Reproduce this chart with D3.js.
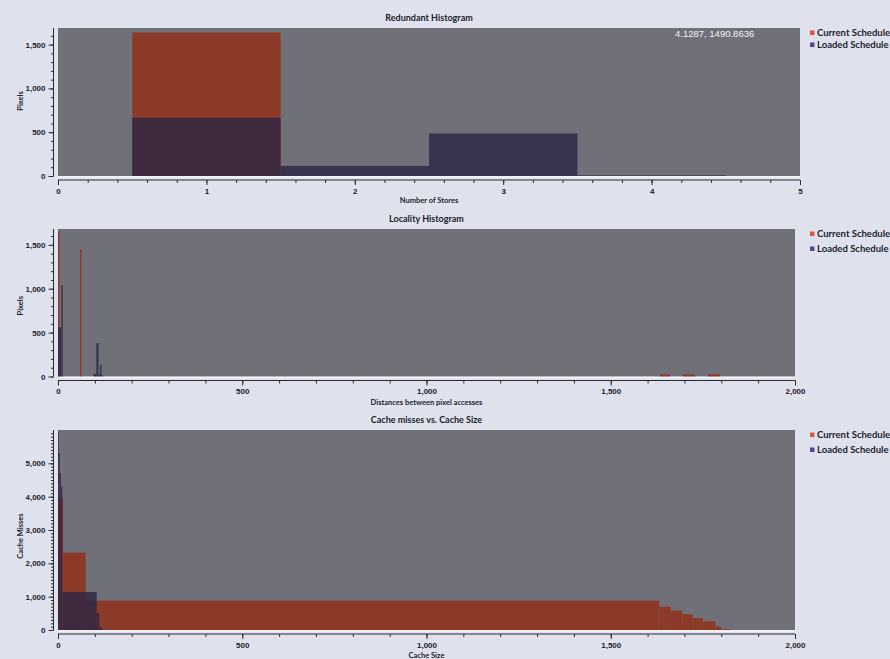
<!DOCTYPE html>
<html>
<head>
<meta charset="utf-8">
<script src="https://cdn.jsdelivr.net/npm/d3@7"></script>
<style>
  body { margin: 0; background: #dfe2ec; }
  svg { display: block; font-family: Lato, "Open Sans", sans-serif; }
</style>
</head>
<body>
<svg id="chart" width="890" height="659"></svg>
<script>
// ---- Redundant histogram: pixels per number of stores ----
const storeCounts = [1, 2, 3, 4];
const redundantCurrent = [1640, 0, 0, 0];
const redundantLoaded = [665, 115, 485, 8];

// ---- Locality histogram: distance between pixel accesses (bin edges + counts) ----
const localityCurrentFrom  = [0, 60, 1634, 1695, 1764];
const localityCurrentTo    = [4, 64, 1661, 1729, 1796];
const localityCurrentCount = [1650, 1445, 25, 25, 25];
const localityLoadedFrom   = [0, 9, 96, 104, 110, 114, 118];
const localityLoadedTo     = [9, 13, 104, 110, 114, 118, 122];
const localityLoadedCount  = [560, 1040, 30, 380, 30, 130, 20];

// ---- Cache misses vs. cache size (step segments) ----
const cacheCurrentFrom   = [0, 14, 75, 1632, 1663, 1694, 1722, 1750, 1784, 1800];
const cacheCurrentTo     = [14, 75, 1632, 1663, 1694, 1722, 1750, 1784, 1800, 1825];
const cacheCurrentMisses = [3950, 2320, 880, 700, 580, 470, 360, 260, 100, 25];
const cacheLoadedFrom    = [0, 2, 5, 8, 12, 105, 112];
const cacheLoadedTo      = [2, 5, 8, 12, 105, 112, 120];
const cacheLoadedMisses  = [5950, 5300, 4700, 4300, 1140, 500, 80];

const seriesNames = ["Current Schedule", "Loaded Schedule"];
const readout = "4.1287, 1490.8636";

const COLORS = {
  plotBg: "#707079",
  current: "#8d3b29",
  loaded: "#2d2644",
  legendCurrent: "#d85a38",
  legendLoaded: "#56468a",
  text: "#1c1c2c",
  axis: "#2a2a34"
};
const LOADED_OPACITY = 0.82;

const svg = d3.select("#chart");
const fmt = d3.format(",");

function segments(from, to, values) {
  return from.map((f, i) => ({ x0: f, x1: to[i], v: values[i] })).filter(d => d.v > 0);
}

function drawPanel(cfg) {
  const x = d3.scaleLinear().domain(cfg.xDomain).range(cfg.xRange);
  const y = d3.scaleLinear().domain([0, cfg.yMax]).range(cfg.yRange);
  const g = svg.append("g");

  // plot area
  g.append("rect")
    .attr("x", x(cfg.xDomain[0])).attr("y", y(cfg.yMax))
    .attr("width", x(cfg.xDomain[1]) - x(cfg.xDomain[0]))
    .attr("height", y(0) - y(cfg.yMax))
    .attr("fill", COLORS.plotBg);

  // series
  cfg.series.forEach(s => {
    g.append("g").selectAll("rect").data(s.data).join("rect")
      .attr("x", d => x(d.x0))
      .attr("y", d => y(d.v))
      .attr("width", d => Math.max(0.8, x(d.x1) - x(d.x0)))
      .attr("height", d => y(0) - y(d.v))
      .attr("fill", s.color)
      .attr("fill-opacity", s.opacity);
  });

  // light baseline under the plot
  g.append("line")
    .attr("x1", x(cfg.xDomain[0])).attr("x2", x(cfg.xDomain[1]))
    .attr("y1", y(0) + 1).attr("y2", y(0) + 1)
    .attr("stroke", "#f3f4f8").attr("stroke-width", 1.5);

  // x axis (minor + major ticks)
  const xAxisY = y(0) + 4;
  g.append("g").attr("transform", `translate(0,${xAxisY})`)
    .call(d3.axisBottom(x).tickValues(cfg.xMinor).tickSize(3).tickFormat(""))
    .call(a => a.select(".domain").remove())
    .selectAll("line").attr("stroke", COLORS.axis);
  const xa = g.append("g").attr("transform", `translate(0,${xAxisY})`)
    .call(d3.axisBottom(x).tickValues(cfg.xMajor).tickSize(5).tickSizeOuter(0).tickPadding(3).tickFormat(fmt));
  xa.select(".domain").attr("stroke", COLORS.axis).attr("d", `M${x(cfg.xDomain[0])},0H${x(cfg.xDomain[1])}`);
  xa.selectAll("line").attr("stroke", COLORS.axis);
  xa.selectAll("text").attr("fill", COLORS.text).attr("font-size", 8).attr("font-weight", 700);

  // y axis
  const yAxisX = x(cfg.xDomain[0]) - 4.5;
  g.append("g").attr("transform", `translate(${yAxisX},0)`)
    .call(d3.axisLeft(y).tickValues(cfg.yMinor).tickSize(2.5).tickFormat(""))
    .call(a => a.select(".domain").remove())
    .selectAll("line").attr("stroke", COLORS.axis);
  const ya = g.append("g").attr("transform", `translate(${yAxisX},0)`)
    .call(d3.axisLeft(y).tickValues(cfg.yMajor).tickSize(5).tickSizeOuter(0).tickPadding(3).tickFormat(fmt));
  ya.select(".domain").attr("stroke", COLORS.axis).attr("d", `M0,${y(0)}V${y(cfg.yMax)}`);
  ya.selectAll("line").attr("stroke", COLORS.axis);
  ya.selectAll("text").attr("fill", COLORS.text).attr("font-size", 8).attr("font-weight", 700);

  // titles
  const cx = (x(cfg.xDomain[0]) + x(cfg.xDomain[1])) / 2;
  g.append("text").attr("x", cx).attr("y", cfg.titleY).attr("text-anchor", "middle")
    .attr("font-size", 9).attr("font-weight", 700).attr("fill", COLORS.text).text(cfg.title);
  g.append("text").attr("x", cx).attr("y", cfg.xLabelY).attr("text-anchor", "middle")
    .attr("font-size", 7.5).attr("font-weight", 700).attr("fill", COLORS.text).text(cfg.xLabel);
  const cy = (y(0) + y(cfg.yMax)) / 2 + cfg.yLabelShift;
  g.append("text").attr("transform", `translate(23,${cy}) rotate(-90)`).attr("text-anchor", "middle")
    .attr("font-size", 7.5).attr("font-weight", 700).attr("fill", COLORS.text).text(cfg.yLabel);

  // legend
  const lg = g.append("g").attr("transform", `translate(810,${y(cfg.yMax) + 5})`);
  seriesNames.forEach((name, i) => {
    const ly = i * cfg.legendGap;
    lg.append("rect").attr("x", 0).attr("y", ly - 2.5).attr("width", 4.5).attr("height", 4.5)
      .attr("fill", i === 0 ? COLORS.legendCurrent : COLORS.legendLoaded);
    lg.append("text").attr("x", 7).attr("y", ly + 3.2).attr("font-size", 9.5).attr("font-weight", 700)
      .attr("fill", COLORS.text).text(name);
  });

  return { x, y, g };
}

// Panel 1
const p1 = drawPanel({
  title: "Redundant Histogram", xLabel: "Number of Stores", yLabel: "Pixels",
  xDomain: [0, 5], xRange: [58, 800], yMax: 1690, yRange: [176, 28],
  xMajor: d3.range(0, 6, 1), xMinor: d3.range(0, 5.01, 0.2),
  yMajor: [0, 500, 1000, 1500], yMinor: d3.range(0, 1690, 100),
  titleY: 21, xLabelY: 203, yLabelShift: -1, legendGap: 12,
  series: [
    { data: segments(storeCounts.map(s => s - 0.5), storeCounts.map(s => s + 0.5), redundantCurrent), color: COLORS.current, opacity: 1 },
    { data: segments(storeCounts.map(s => s - 0.5), storeCounts.map(s => s + 0.5), redundantLoaded), color: COLORS.loaded, opacity: LOADED_OPACITY }
  ]
});
p1.g.append("text").attr("x", 675).attr("y", 36.5).attr("font-size", 9.5)
  .attr("font-family", "'Liberation Sans', Arial, sans-serif")
  .attr("fill", "#f4f4f8").text(readout);

// Panel 2
drawPanel({
  title: "Locality Histogram", xLabel: "Distances between pixel accesses", yLabel: "Pixels",
  xDomain: [0, 2000], xRange: [58, 795], yMax: 1680, yRange: [376.5, 229],
  xMajor: d3.range(0, 2001, 500), xMinor: d3.range(0, 2001, 100),
  yMajor: [0, 500, 1000, 1500], yMinor: d3.range(0, 1680, 100),
  titleY: 222, xLabelY: 404.5, yLabelShift: 3, legendGap: 15,
  series: [
    { data: segments(localityCurrentFrom, localityCurrentTo, localityCurrentCount), color: COLORS.current, opacity: 1 },
    { data: segments(localityLoadedFrom, localityLoadedTo, localityLoadedCount), color: COLORS.loaded, opacity: LOADED_OPACITY }
  ]
});

// Panel 3
drawPanel({
  title: "Cache misses vs. Cache Size", xLabel: "Cache Size", yLabel: "Cache Misses",
  xDomain: [0, 2000], xRange: [58, 795], yMax: 6000, yRange: [630, 430],
  xMajor: d3.range(0, 2001, 500), xMinor: d3.range(0, 2001, 100),
  yMajor: d3.range(0, 6000, 1000), yMinor: d3.range(0, 6000, 100),
  titleY: 423, xLabelY: 658, yLabelShift: 6, legendGap: 15,
  series: [
    { data: segments(cacheCurrentFrom, cacheCurrentTo, cacheCurrentMisses), color: COLORS.current, opacity: 1 },
    { data: segments(cacheLoadedFrom, cacheLoadedTo, cacheLoadedMisses), color: COLORS.loaded, opacity: LOADED_OPACITY }
  ]
});
</script>
</body>
</html>
